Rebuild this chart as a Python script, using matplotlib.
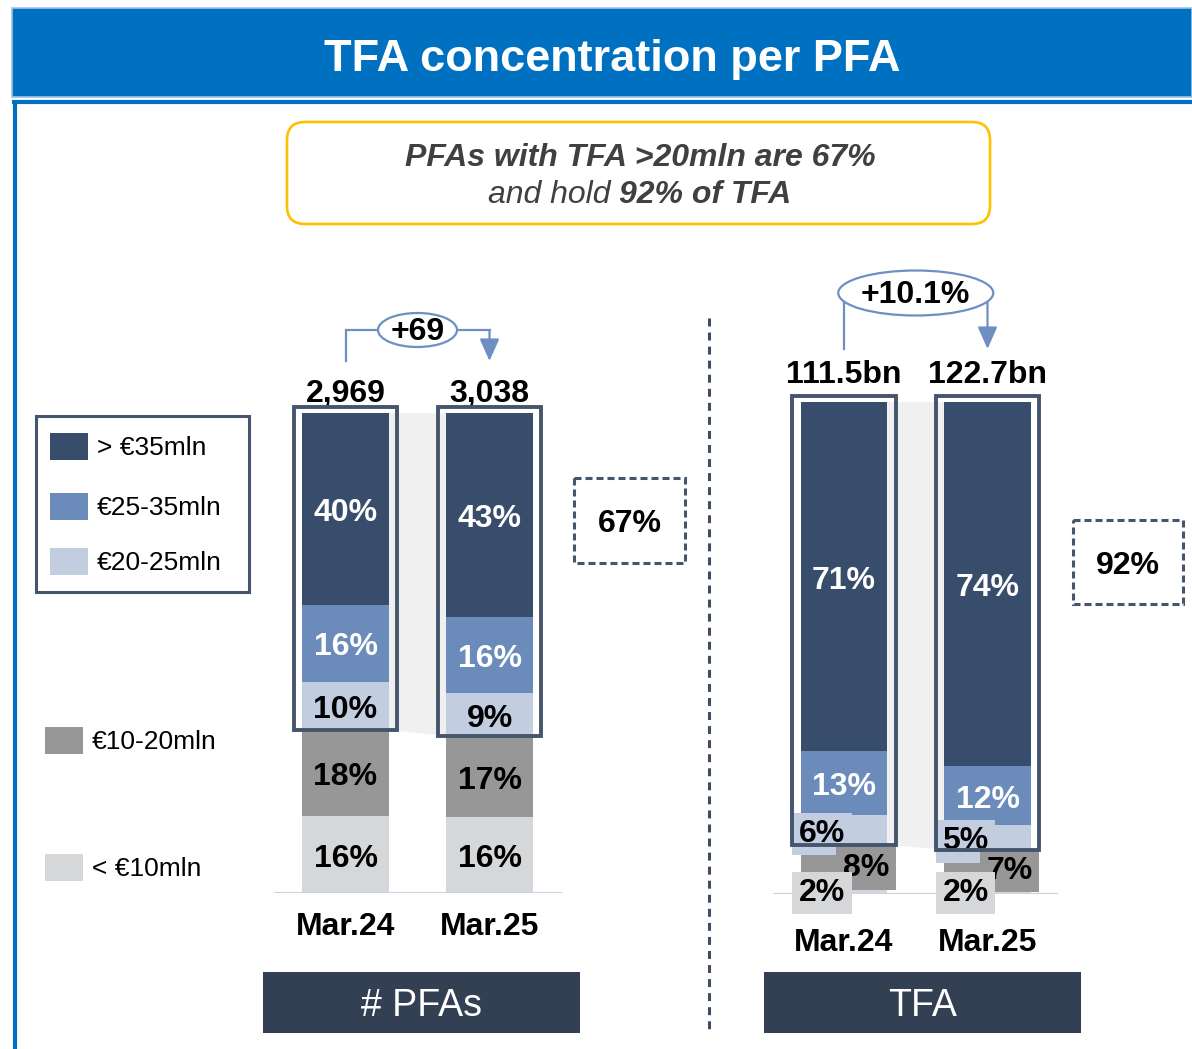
import matplotlib
matplotlib.use('Agg')
import matplotlib.pyplot as plt
from matplotlib.patches import Rectangle, FancyBboxPatch, Ellipse, Polygon
import numpy as np

plt.rcParams['font.family'] = ['Liberation Sans', 'DejaVu Sans']

# ---------------- data ----------------
periods = ['Mar.24', 'Mar.25']
bands = ['> €35mln', '€25-35mln', '€20-25mln', '€10-20mln', '< €10mln']

pfa_gt35 = [40, 43]
pfa_25_35 = [16, 16]
pfa_20_25 = [10, 9]
pfa_10_20 = [18, 17]
pfa_lt10 = [16, 16]

tfa_gt35 = [71, 74]
tfa_25_35 = [13, 12]
tfa_20_25 = [6, 5]
tfa_10_20 = [8, 7]
tfa_lt10 = [2, 2]

pfa_totals = ['2,969', '3,038']
tfa_totals = ['111.5bn', '122.7bn']
pfa_change = '+69'
tfa_change = '+10.1%'
pfa_gt20 = '67%'
tfa_gt20 = '92%'

title = 'TFA concentration per PFA'
msg_line1 = 'PFAs with TFA >20mln are 67%'
msg_line2a = 'and hold '
msg_line2b = '92% of TFA'
panel_names = ['# PFAs', 'TFA']

# ---------------- style ----------------
W, H = 1192, 1049
band_colors = ['#384d6c', '#6b8cba', '#c2cee0', '#979797', '#d6d7d9']
label_colors = ['white', 'white', 'black', 'black', 'black']
BOX_C = '#46556e'
ARROW_C = '#6f8fc2'
BASE_C = '#c8d3e4'
BLUE = '#0070c0'
DARK = '#333f52'
FS = 23


def px2pt(p):
    return p * 0.72


fig = plt.figure(figsize=(W / 100, H / 100), dpi=100)
fig.patch.set_facecolor('white')

# overlay axes in pixel coordinates
ov = fig.add_axes([0, 0, 1, 1])
ov.set_xlim(0, W)
ov.set_ylim(H, 0)
ov.axis('off')

# header
ov.add_patch(Rectangle((12, 8), W - 12, 89, fc=BLUE, ec='#9dc3e6', lw=1.2))
ov.text(612, 59, title, color='white', fontsize=32.5, fontweight='bold',
        ha='center', va='center')
# frame
ov.plot([12, W], [102, 102], color=BLUE, lw=3, solid_capstyle='butt')
ov.plot([15, 15], [101, H], color=BLUE, lw=3, solid_capstyle='butt')

# yellow message box
ov.add_patch(FancyBboxPatch((287, 122), 703, 102,
                            boxstyle='round,pad=0,rounding_size=18',
                            fc='white', ec='#ffc000', lw=1.9))
ov.text(640, 158, msg_line1, fontsize=23, fontweight='bold', style='italic',
        color='#404040', ha='center', va='center')
t1 = ov.text(619, 195, msg_line2a, fontsize=23, style='italic',
             color='#404040', ha='right', va='center')
ov.annotate(msg_line2b, xy=(1, 0.5), xycoords=t1, fontsize=23,
            fontweight='bold', style='italic', color='#404040',
            ha='left', va='center')

# legend
ov.add_patch(Rectangle((36, 416), 213, 176, fill=False, ec=BOX_C, lw=2.2))
leg_y = [446, 506, 561, 740, 867]
leg_x = [50, 50, 50, 45, 45]
for i, name in enumerate(bands):
    ov.add_patch(Rectangle((leg_x[i], leg_y[i] - 13.5), 38, 27,
                           fc=band_colors[i], ec='none'))
    ov.text(leg_x[i] + 47, leg_y[i] + 2, name, fontsize=19, va='center',
            ha='left', color='black')

# divider
ov.plot([709, 709], [318, 1030], color='#3f4d63', lw=2.2,
        linestyle=(0, (2.6, 2.0)))

# dashed share boxes
for (x0, y0, w0, h0), txt in [((574, 478, 111, 85), pfa_gt20),
                              ((1073, 520, 110, 84), tfa_gt20)]:
    ov.add_patch(Rectangle((x0, y0), w0, h0, fill=False, ec=BOX_C, lw=2.2,
                           linestyle=(0, (2.3, 1.3))))
    ov.text(x0 + w0 / 2, y0 + h0 / 2 + 4, txt, fontsize=FS,
            fontweight='bold', ha='center', va='center')

# panel names
for (x0, name) in [(263, panel_names[0]), (764, panel_names[1])]:
    ov.add_patch(Rectangle((x0, 972), 317, 61, fc=DARK, ec='none'))
    ov.text(x0 + 158.5, 1006, name, fontsize=27, color='white',
            ha='center', va='center')


def bar_axes(left, right, top, base, c0, sp):
    ax = fig.add_axes([left / W, 1 - base / H, (right - left) / W,
                       (base - top) / H])
    ax.set_xlim((left - c0) / sp, (right - c0) / sp)
    ax.set_ylim(0, 100)
    ax.patch.set_visible(False)
    for s in ax.spines.values():
        s.set_visible(False)
    ax.set_yticks([])
    ax.axhline(0, color=BASE_C, lw=1.6, zorder=3)
    return ax, sp, (base - top) / 100.0


def draw_chart(ax, sx, sy, series, totals, tot_dy, label_dx, boxed, cat_pad):
    vals = np.array(series, dtype=float)
    scaled = vals / vals.sum(axis=0) * 100
    x = np.arange(len(periods))
    w = 86.5 / sx
    for i in range(len(series)):
        bottom = 100 - scaled[:i + 1].sum(axis=0)
        ax.bar(x, scaled[i], w, bottom=bottom, color=band_colors[i],
               zorder=2, linewidth=0)
        for j in range(len(x)):
            kw = {}
            if boxed[i]:
                kw['bbox'] = dict(boxstyle='square,pad=0.2',
                                  fc=band_colors[i], ec='none')
            ax.annotate(f'{vals[i, j]:g}%',
                        (x[j], bottom[j] + scaled[i, j] / 2),
                        xytext=(px2pt(label_dx[i]), px2pt(-4)),
                        textcoords='offset points', ha='center',
                        va='center', fontsize=FS, fontweight='bold',
                        color=label_colors[i], zorder=4 + i,
                        annotation_clip=False, **kw)
    # >20mln boundary
    b = 100 - scaled[:3].sum(axis=0)
    # connector
    ax.add_patch(Polygon([(w / 2, 100), (1 - w / 2, 100), (1 - w / 2, b[1]),
                          (w / 2, b[0])], closed=True, fc='#f0f0f0',
                         ec='none', zorder=1, clip_on=False))
    # highlight boxes
    padx = 8.5 / sx
    pady = 6 / sy
    for j in range(len(x)):
        ax.add_patch(Rectangle((x[j] - w / 2 - padx, b[j]), w + 2 * padx,
                               100 + pady - b[j], fill=False, ec=BOX_C,
                               lw=2.8, zorder=10, clip_on=False))
        ax.annotate(totals[j], (x[j], 100), xytext=(0, px2pt(tot_dy)),
                    textcoords='offset points', ha='center', va='center',
                    fontsize=FS, fontweight='bold', annotation_clip=False)
    ax.set_xticks(x, periods)
    ax.tick_params(axis='x', length=0, pad=px2pt(cat_pad))
    for lab in ax.get_xticklabels():
        lab.set_fontsize(FS)
        lab.set_fontweight('bold')
    return x


ARROW_STYLE = dict(arrowstyle='-|>,head_length=0.9,head_width=0.4',
                   color=ARROW_C, lw=1.6, shrinkA=0, shrinkB=0,
                   mutation_scale=15)

# ---- left chart: # PFAs ----
axL, sxL, syL = bar_axes(274, 562, 413, 893, 345.5, 144)
draw_chart(axL, sxL, syL,
           [pfa_gt35, pfa_25_35, pfa_20_25, pfa_10_20, pfa_lt10],
           pfa_totals, 19, [0, 0, 0, 0, 0], [False] * 5, 19)
# bracket with change
y_start = 100 + 52 / syL
y_br = 100 + 83 / syL
axL.plot([0, 0, 1], [y_start, y_br, y_br], color=ARROW_C, lw=1.6,
         clip_on=False, zorder=3, solid_joinstyle='miter')
axL.annotate('', xy=(1, y_start), xytext=(1, y_br), arrowprops=ARROW_STYLE,
             annotation_clip=False)
axL.add_patch(Ellipse((0.5, y_br), 79 / sxL, 34 / syL, fc='white',
                      ec=ARROW_C, lw=1.6, zorder=4, clip_on=False))
axL.text(0.5, y_br - 2 / syL, pfa_change, fontsize=FS, fontweight='bold',
         ha='center', va='center', zorder=5)

# ---- right chart: TFA ----
axR, sxR, syR = bar_axes(773, 1058, 402, 894, 844, 143.5)
draw_chart(axR, sxR, syR,
           [tfa_gt35, tfa_25_35, tfa_20_25, tfa_10_20, tfa_lt10],
           tfa_totals, 27, [0, 0, -22, 22, -22],
           [False, False, True, True, True], 34)
y_start = 100 + 53 / syR
y_el = 100 + 109 / syR
axR.plot([0, 0], [y_start, y_el], color=ARROW_C, lw=1.6, clip_on=False,
         zorder=3)
axR.annotate('', xy=(1, y_start), xytext=(1, y_el), arrowprops=ARROW_STYLE,
             annotation_clip=False)
axR.add_patch(Ellipse((0.5, y_el), 155 / sxR, 45 / syR, fc='white',
                      ec=ARROW_C, lw=1.6, zorder=4, clip_on=False))
axR.text(0.5, y_el - 2 / syR, tfa_change, fontsize=FS, fontweight='bold',
         ha='center', va='center', zorder=5)

fig.savefig('out.png', dpi=100)
